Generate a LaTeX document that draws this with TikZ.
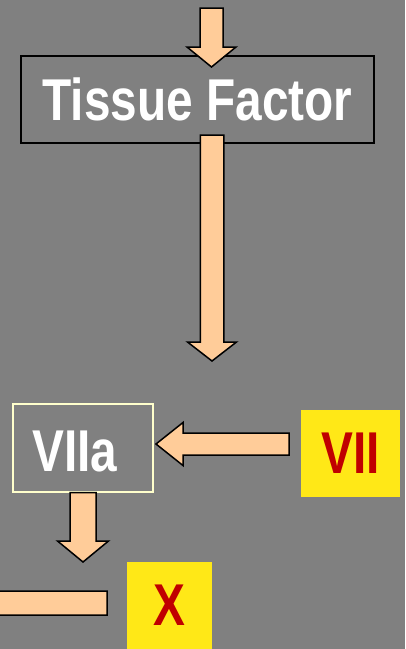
\documentclass[tikz,border=0pt]{standalone}
\usepackage{fontspec}
\newfontfamily\labelfont[FakeStretch=0.81]{Liberation Sans}
\usetikzlibrary{calc}
\definecolor{slide}{HTML}{808080}
\definecolor{peach}{HTML}{FFCC99}
\definecolor{factor}{HTML}{FFE817}
\definecolor{factortext}{HTML}{C00000}
\definecolor{pale}{HTML}{FFFFCC}

% fat outlined arrow: tail, tip, shaft half-width, head half-width, head length
\newcommand\blockarrow[5]{%
  \filldraw[arrowbody] ($(#1)!#3!-90:(#2)$) -- ($(#2)!#5!(#1)!#3!-90:(#2)$)
    -- ($(#2)!#5!(#1)!#4!-90:(#2)$) -- (#2) -- ($(#2)!#5!(#1)!#4!90:(#2)$)
    -- ($(#2)!#5!(#1)!#3!90:(#2)$) -- ($(#1)!#3!90:(#2)$) -- cycle;}

\begin{document}
\begin{tikzpicture}[x=1pt,y=-1pt,line join=miter,
  bigword/.style={font=\labelfont\bfseries\fontsize{59}{59}\selectfont,inner sep=0pt},
  zymogen/.style={bigword,fill=factor,text=factortext,minimum height=87pt},
  arrowbody/.style={fill=peach,draw=black,line width=1.5pt}]
\fill[slide] (0,0) rectangle (405,649);
\clip (0,0) rectangle (405,649);

\node[bigword,draw=black,line width=1.5pt,minimum width=353pt,minimum height=87pt,text=white] (tf) at (197.5,99.5) {Tissue Factor};
\node[draw=pale,line width=1.2pt,minimum width=140pt,minimum height=88pt] (viia) at (83,448) {};
\node[bigword,text=white] (viiatext) at (75,451.5) {VIIa};
\node[zymogen,minimum width=99pt] (vii) at (350.5,453.5) {VII};
\node[zymogen,minimum width=85pt] (fx) at (169.5,605.5) {X};

\coordinate (in) at (211.5,8);
\coordinate (tfin) at (211.5,67);
\coordinate (tfout) at (212,135);
\coordinate (down) at (212,361);
\coordinate (viiout) at (289,444);
\coordinate (viiain) at (156,444);
\coordinate (fxin) at (83,562);
\coordinate (fxout) at (107,603);
\coordinate (off) at (-40,603);

\blockarrow{in}{tfin}{11.5pt}{24.5pt}{20pt}
\blockarrow{tfout}{down}{11.75pt}{24.5pt}{19pt}
\blockarrow{viiout}{viiain}{11pt}{21.5pt}{27pt}
\blockarrow{viia.south}{fxin}{13pt}{25.5pt}{21pt}
\blockarrow{fxout}{off}{12pt}{24pt}{20pt}
\end{tikzpicture}
\end{document}
